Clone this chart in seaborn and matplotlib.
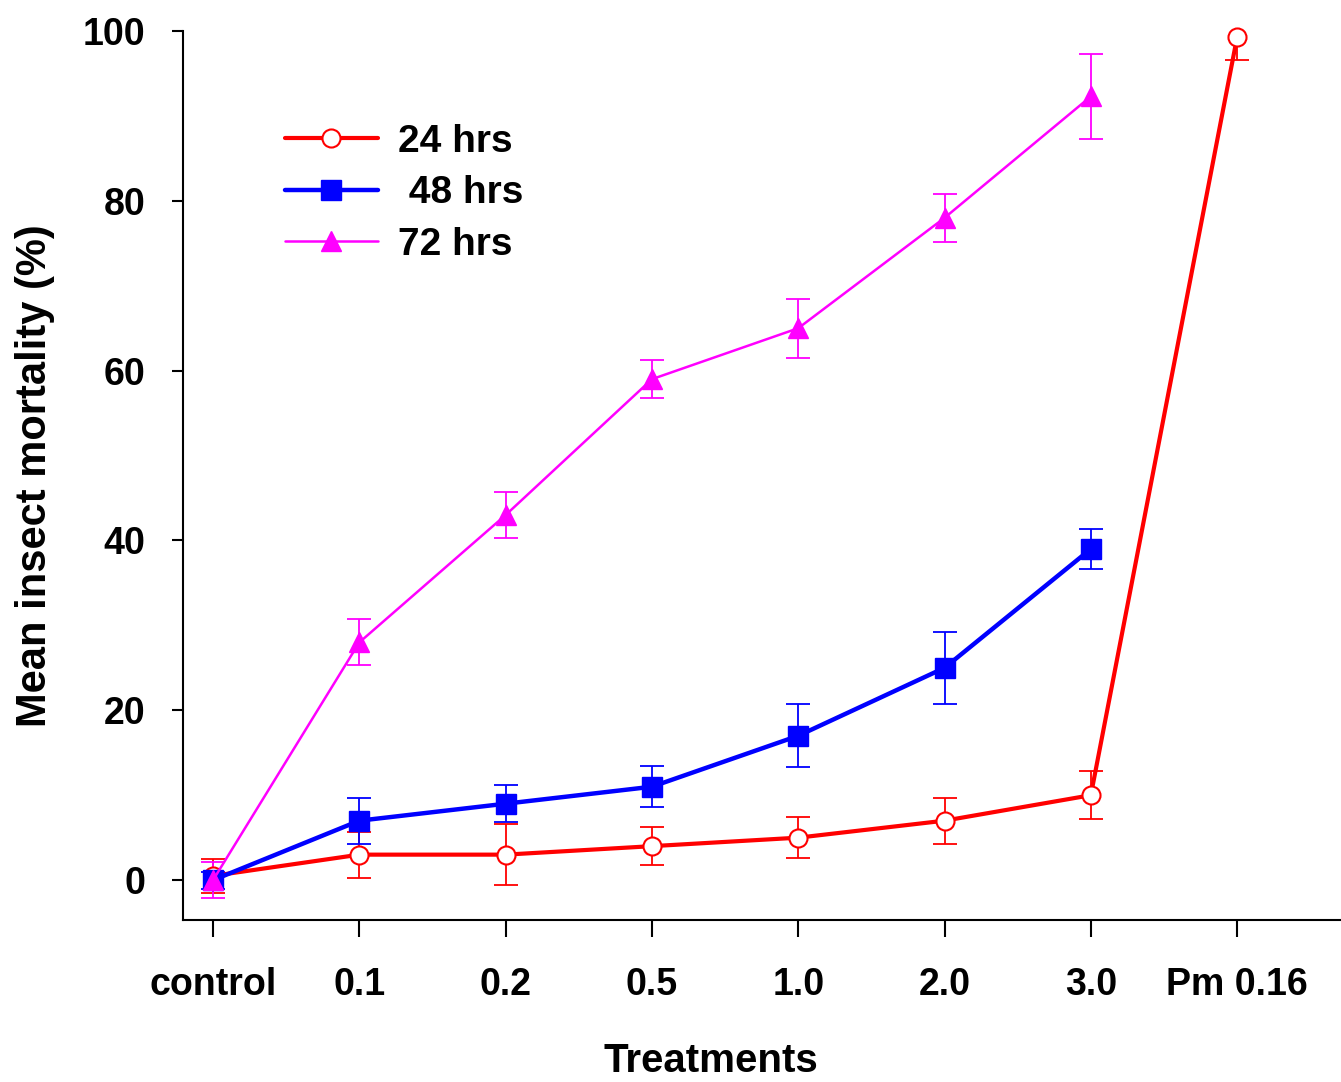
import numpy as np
import pandas as pd
import matplotlib
matplotlib.use("Agg")
import matplotlib.pyplot as plt
import seaborn as sns

# Treatment categories along the x axis
treatments = ["control", "0.1", "0.2", "0.5", "1.0", "2.0", "3.0", "Pm 0.16"]

# Mean mortality (%) and error for each exposure time
mort_24 = [0.5, 3, 3, 4, 5, 7, 10, 99.3]
err_24 = [2.0, 2.7, 3.6, 2.2, 2.4, 2.7, 2.8, 2.7]

mort_48 = [0, 7, 9, 11, 17, 25, 39]
err_48 = [1.0, 2.7, 2.2, 2.4, 3.7, 4.2, 2.3]

mort_72 = [0, 28, 43, 59, 65, 78, 92.3]
err_72 = [2.1, 2.7, 2.7, 2.2, 3.5, 2.8, 5.0]

series_names = ["24 hrs", " 48 hrs", "72 hrs"]
y_ticks = [0, 20, 40, 60, 80, 100]

sns.set_style("ticks")
plt.rcParams["font.family"] = ["Liberation Sans", "DejaVu Sans"]
plt.rcParams["font.weight"] = "bold"
for key in ["text.color", "axes.labelcolor", "xtick.color", "ytick.color", "axes.edgecolor"]:
    plt.rcParams[key] = "black"

rows = []
for name, vals, errs in zip(series_names, [mort_24, mort_48, mort_72], [err_24, err_48, err_72]):
    for i, (v, e) in enumerate(zip(vals, errs)):
        rows.append({"pos": i, "treatment": treatments[i], "mortality": v, "err": e, "series": name})
df = pd.DataFrame(rows)

styles = {
    "24 hrs": dict(color="#ff0000", marker="o", mfc="white", lw=3.0, ms=13, mew=1.5),
    " 48 hrs": dict(color="#0000ff", marker="s", mfc="#0000ff", lw=3.2, ms=14, mew=1.0),
    "72 hrs": dict(color="#ff00ff", marker="^", mfc="#ff00ff", lw=1.8, ms=15, mew=1.0),
}

fig = plt.figure(figsize=(13.41, 10.82), dpi=100)
ax = fig.add_axes([0.1365, 0.1497, 0.8635, 0.8216])

handles = []
for name in series_names:
    sub = df[df["series"] == name]
    st = styles[name]
    ax.errorbar(sub["pos"], sub["mortality"], yerr=sub["err"], fmt="none",
                ecolor=st["color"], elinewidth=1.3, capsize=8.5, capthick=1.3, zorder=2)
    sns.lineplot(data=sub, x="pos", y="mortality", ax=ax, color=st["color"],
                 lw=st["lw"], marker=st["marker"], markersize=st["ms"],
                 markerfacecolor=st["mfc"], markeredgecolor=st["color"],
                 markeredgewidth=st["mew"], clip_on=False, zorder=3,
                 errorbar=None, legend=False)
    h, = ax.plot([], [], color=st["color"], lw=st["lw"], marker=st["marker"],
                 markersize=st["ms"], markerfacecolor=st["mfc"],
                 markeredgecolor=st["color"], markeredgewidth=st["mew"])
    handles.append(h)

ax.set_xlim(-0.205, 7.71)
ax.set_ylim(-4.7, 100)
ax.set_xticks(range(len(treatments)))
ax.set_xticklabels(treatments)
ax.set_yticks(y_ticks)
ax.tick_params(axis="x", length=12, width=1.5, pad=22, labelsize=27)
ax.tick_params(axis="y", length=8, width=1.5, pad=19, labelsize=27)
for lab in ax.get_xticklabels() + ax.get_yticklabels():
    lab.set_fontweight("bold")

sns.despine(ax=ax)
ax.spines["left"].set_linewidth(1.5)
ax.spines["bottom"].set_linewidth(1.5)

ax.set_xlabel("Treatments", fontsize=29, fontweight="bold")
ax.xaxis.set_label_coords(0.456, -0.137)
ax.set_ylabel("Mean insect mortality (%)", fontsize=30, fontweight="bold")
ax.yaxis.set_label_coords(-0.1105, 0.5)

leg = ax.legend(handles, series_names, loc="upper left", bbox_to_anchor=(285 / 1341, 0.8858),
                bbox_transform=fig.transFigure, frameon=False, fontsize=28,
                handlelength=2.39, handletextpad=0.51, labelspacing=0.4,
                borderpad=0, borderaxespad=0)
for t in leg.get_texts():
    t.set_fontweight("bold")

fig.savefig("out.png", dpi=100)
